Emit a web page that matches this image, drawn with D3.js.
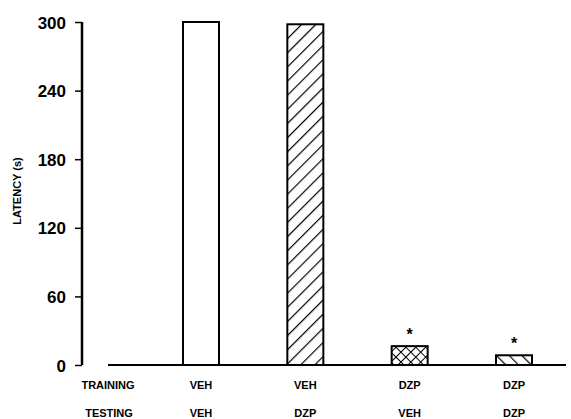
<!DOCTYPE html>
<html>
<head>
  <meta charset="UTF-8">
  <title>Latency</title>
  <script src="https://d3js.org/d3.v7.min.js"></script>
  <style>
    body { margin: 0; background: #fff; }
    text { font-family: "Liberation Sans", Arial, sans-serif; font-weight: bold; fill: #000; }
  </style>
</head>
<body>
  <script>
    var groups = ["A", "B", "C", "D"];
    var training = ["VEH", "VEH", "DZP", "DZP"];
    var testing = ["VEH", "DZP", "VEH", "DZP"];
    var latency = [300, 298, 16.5, 8.5];
    var fills = ["none", "diag", "cross", "back"];
    var starred = [false, false, true, true];
    var yTicks = [0, 60, 120, 180, 240, 300];

    var width = 571, height = 419;

    var svg = d3.select("body").append("svg")
      .attr("width", width)
      .attr("height", height);

    var defs = svg.append("defs");

    // hatch patterns
    var p1 = defs.append("pattern").attr("id", "diag")
      .attr("patternUnits", "userSpaceOnUse").attr("width", 10).attr("height", 10)
      .attr("patternTransform", "rotate(45)");
    p1.append("rect").attr("width", 10).attr("height", 10).attr("fill", "#fff");
    p1.append("line").attr("x1", 0).attr("y1", 0).attr("x2", 0).attr("y2", 10)
      .attr("stroke", "#000").attr("stroke-width", 2.4);

    var p2 = defs.append("pattern").attr("id", "cross")
      .attr("patternUnits", "userSpaceOnUse").attr("width", 7).attr("height", 7)
      .attr("patternTransform", "rotate(45)");
    p2.append("rect").attr("width", 7).attr("height", 7).attr("fill", "#fff");
    p2.append("line").attr("x1", 0).attr("y1", 0).attr("x2", 0).attr("y2", 7)
      .attr("stroke", "#000").attr("stroke-width", 2);
    p2.append("line").attr("x1", 0).attr("y1", 0).attr("x2", 7).attr("y2", 0)
      .attr("stroke", "#000").attr("stroke-width", 2);

    var p3 = defs.append("pattern").attr("id", "back")
      .attr("patternUnits", "userSpaceOnUse").attr("width", 9).attr("height", 9)
      .attr("patternTransform", "rotate(-45)");
    p3.append("rect").attr("width", 9).attr("height", 9).attr("fill", "#fff");
    p3.append("line").attr("x1", 0).attr("y1", 0).attr("x2", 0).attr("y2", 9)
      .attr("stroke", "#000").attr("stroke-width", 2.4);

    var x = d3.scalePoint().domain(groups).range([201, 514]);
    var y = d3.scaleLinear().domain([0, 300]).range([365, 22]);
    var barW = 36;

    // y axis
    var yAxis = d3.axisLeft(y).tickValues(yTicks).tickSize(7).tickPadding(9);
    var gy = svg.append("g").attr("transform", "translate(82,0)").call(yAxis);
    gy.select(".domain").attr("stroke", "#000").attr("stroke-width", 2.5)
      .attr("d", "M0," + y(300) + "V" + y(0));
    gy.selectAll(".tick line").attr("stroke-width", 1.5);
    gy.selectAll(".tick text")
      .style("font-size", "17px")
      .style("font-family", "'Liberation Sans', Arial, sans-serif")
      .style("font-weight", "bold")
      .attr("dy", "0.36em");

    svg.append("text")
      .attr("transform", "translate(21,191) rotate(-90)")
      .attr("text-anchor", "middle")
      .style("font-size", "11px")
      .text("LATENCY (s)");

    // baseline
    svg.append("line")
      .attr("x1", 108).attr("x2", 566)
      .attr("y1", y(0)).attr("y2", y(0))
      .attr("stroke", "#000").attr("stroke-width", 2.2);

    // bars
    svg.selectAll("rect.bar")
      .data(groups)
      .enter()
      .append("rect")
      .attr("class", "bar")
      .attr("x", function (d) { return x(d) - barW / 2; })
      .attr("width", barW)
      .attr("y", function (d, i) { return y(latency[i]); })
      .attr("height", function (d, i) { return y(0) - y(latency[i]); })
      .attr("fill", function (d, i) { return fills[i] === "none" ? "#fff" : "url(#" + fills[i] + ")"; })
      .attr("stroke", "#000")
      .attr("stroke-width", 2);

    // significance marks
    svg.selectAll("text.star")
      .data(groups.filter(function (d, i) { return starred[i]; }))
      .enter()
      .append("text")
      .attr("class", "star")
      .attr("x", function (d) { return x(d); })
      .attr("y", function (d) { return y(latency[groups.indexOf(d)]) - 6; })
      .attr("text-anchor", "middle")
      .style("font-size", "16px")
      .text("*");

    // condition labels
    svg.append("text").attr("x", 108).attr("y", 389).attr("text-anchor", "middle")
      .style("font-size", "11px").text("TRAINING");
    svg.append("text").attr("x", 109).attr("y", 417).attr("text-anchor", "middle")
      .style("font-size", "11px").text("TESTING");

    svg.selectAll("text.train")
      .data(groups)
      .enter()
      .append("text")
      .attr("class", "train")
      .attr("x", function (d) { return x(d); })
      .attr("y", 389)
      .attr("text-anchor", "middle")
      .style("font-size", "11px")
      .text(function (d, i) { return training[i]; });

    svg.selectAll("text.test")
      .data(groups)
      .enter()
      .append("text")
      .attr("class", "test")
      .attr("x", function (d) { return x(d); })
      .attr("y", 417)
      .attr("text-anchor", "middle")
      .style("font-size", "11px")
      .text(function (d, i) { return testing[i]; });
  </script>
</body>
</html>
